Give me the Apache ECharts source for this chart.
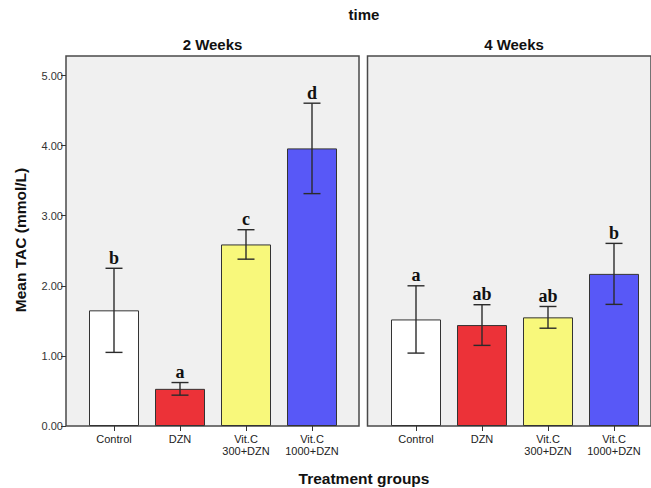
<!DOCTYPE html>
<html><head><meta charset="utf-8">
<script src="https://cdn.jsdelivr.net/npm/echarts@6/dist/echarts.min.js"></script>
<style>html,body{margin:0;padding:0;background:#fff}#c{width:651px;height:488px}</style>
</head><body><div id="c"></div>
<script>
const categories = ['Control', 'DZN', 'Vit.C\n300+DZN', 'Vit.C\n1000+DZN'];
const panelTitles = ['2 Weeks', '4 Weeks'];
const yTicks = [0, 1, 2, 3, 4, 5];
const barColors = ['#ffffff', '#ec3238', '#f8f87b', '#5858f7'];
const means2w = [1.65, 0.53, 2.59, 3.96];
const errors2w = [0.60, 0.09, 0.21, 0.645];
const letters2w = ['b', 'a', 'c', 'd'];
const means4w = [1.52, 1.44, 1.55, 2.17];
const errors4w = [0.48, 0.29, 0.155, 0.435];
const letters4w = ['a', 'ab', 'ab', 'b'];

const SANS = '"Liberation Sans", Arial, sans-serif';
const SERIF = '"Liberation Serif", "Times New Roman", serif';

const chart = echarts.init(document.getElementById('c'), null, {renderer: 'svg'});

function errRenderer(letters) {
  return function (params, api) {
    const x = api.value(0), m = api.value(1), e = api.value(2);
    const top = api.coord([x, m + e]);
    const bot = api.coord([x, m - e]);
    const half = 8.5;
    const st = {stroke: '#2b2b2b', lineWidth: 1.4};
    return {
      type: 'group',
      children: [
        {type: 'line', shape: {x1: top[0], y1: top[1], x2: bot[0], y2: bot[1]}, style: st},
        {type: 'line', shape: {x1: top[0] - half, y1: top[1], x2: top[0] + half, y2: top[1]}, style: st},
        {type: 'line', shape: {x1: bot[0] - half, y1: bot[1], x2: bot[0] + half, y2: bot[1]}, style: st},
        {type: 'text', x: top[0], y: top[1] - 1.5,
          style: {text: letters[params.dataIndex], fill: '#111', font: 'bold 18px ' + SERIF,
            align: 'center', verticalAlign: 'bottom'}}
      ]
    };
  };
}

function barData(means) {
  return means.map((v, i) => ({value: v, itemStyle: {color: barColors[i]}}));
}
function errData(means, errs) {
  return means.map((v, i) => [i, v, errs[i]]);
}

const xCat = (gi) => ({
  type: 'category', gridIndex: gi, data: categories,
  axisLine: {show: false},
  axisTick: {show: true, alignWithLabel: true, interval: 0, length: 5, lineStyle: {color: '#333', width: 1}},
  axisLabel: {interval: 0, fontSize: 11, color: '#222', fontFamily: SANS, margin: 7, lineHeight: 12}
});
const yVal = (gi, show) => ({
  type: 'value', gridIndex: gi, min: 0, max: 5, interval: 1, offset: 15, show: show,
  axisLine: {show: false},
  axisTick: {show: true, length: 5, lineStyle: {color: '#333', width: 1}},
  axisLabel: {fontSize: 11, color: '#333', fontFamily: SANS, margin: 3,
    formatter: v => yTicks.includes(v) ? v.toFixed(2) : ''},
  splitLine: {show: false}
});

chart.setOption({
  animation: false,
  backgroundColor: '#ffffff',
  grid: [
    {show: true, left: 66, top: 56, width: 293, height: 370, backgroundColor: '#f0f0f0', borderColor: '#4a4a4a', borderWidth: 1.5},
    {show: true, left: 367.5, top: 56, width: 294, height: 370, backgroundColor: '#f0f0f0', borderColor: '#4a4a4a', borderWidth: 1.5},
    {left: 81, top: 75.5, width: 264, height: 350.5},
    {left: 383, top: 75.5, width: 264, height: 350.5}
  ],
  xAxis: [
    {type: 'value', gridIndex: 0, show: false},
    {type: 'value', gridIndex: 1, show: false},
    xCat(2), xCat(3)
  ],
  yAxis: [
    {type: 'value', gridIndex: 0, show: false, splitLine: {show: false}},
    {type: 'value', gridIndex: 1, show: false, splitLine: {show: false}},
    yVal(2, true), yVal(3, false)
  ],
  graphic: [
    {type: 'text', x: 364, y: 14, style: {text: 'time', font: 'bold 15px ' + SANS, fill: '#111', align: 'center', verticalAlign: 'middle'}},
    {type: 'text', x: 212.5, y: 44, style: {text: panelTitles[0], font: 'bold 15px ' + SANS, fill: '#111', align: 'center', verticalAlign: 'middle'}},
    {type: 'text', x: 514, y: 44, style: {text: panelTitles[1], font: 'bold 15px ' + SANS, fill: '#111', align: 'center', verticalAlign: 'middle'}},
    {type: 'text', x: 364, y: 478, style: {text: 'Treatment groups', font: 'bold 15.5px ' + SANS, fill: '#111', align: 'center', verticalAlign: 'middle'}},
    {type: 'text', x: 20, y: 240, rotation: Math.PI / 2, style: {text: 'Mean TAC (mmol/L)', font: 'bold 15.5px ' + SANS, fill: '#111', align: 'center', verticalAlign: 'middle'}}
  ],
  series: [
    {type: 'bar', xAxisIndex: 2, yAxisIndex: 2, barWidth: 50, data: barData(means2w),
      itemStyle: {borderColor: '#333', borderWidth: 1}},
    {type: 'bar', xAxisIndex: 3, yAxisIndex: 3, barWidth: 50, data: barData(means4w),
      itemStyle: {borderColor: '#333', borderWidth: 1}},
    {type: 'custom', xAxisIndex: 2, yAxisIndex: 2, data: errData(means2w, errors2w),
      encode: {x: 0, y: 1}, renderItem: errRenderer(letters2w), z: 5},
    {type: 'custom', xAxisIndex: 3, yAxisIndex: 3, data: errData(means4w, errors4w),
      encode: {x: 0, y: 1}, renderItem: errRenderer(letters4w), z: 5}
  ]
});
</script>
</body></html>
